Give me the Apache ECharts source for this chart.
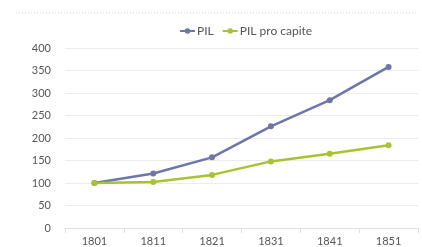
<!DOCTYPE html>
<html>
<head>
<meta charset="utf-8">
<script src="https://cdn.jsdelivr.net/npm/echarts@6/dist/echarts.min.js"></script>
<style>
  html, body { margin: 0; padding: 0; background: #fff; }
  #chart { width: 422px; height: 247px; }
</style>
</head>
<body>
<div id="chart"></div>
<script>
const years = ['1801', '1811', '1821', '1831', '1841', '1851'];
const pil = [100, 121, 157, 226, 284, 358];
const pilProCapite = [100, 102, 118, 148, 165, 184];
const yTicks = [0, 50, 100, 150, 200, 250, 300, 350, 400];

const chart = echarts.init(document.getElementById('chart'));

const option = {
  animation: false,
  textStyle: { fontFamily: 'Lato' },
  graphic: [
    {
      type: 'line',
      shape: { x1: 16, y1: 13, x2: 416, y2: 13 },
      style: { stroke: '#d0d0d0', lineWidth: 1, lineDash: [1, 2] }
    }
  ],
  legend: {
    top: 20,
    left: 174,
    itemWidth: 15,
    itemHeight: 7,
    itemGap: 8,
    textStyle: { color: '#555', fontSize: 12, padding: [0, 0, 0, -3] },
    data: ['PIL', 'PIL pro capite']
  },
  grid: {
    left: 65,
    right: 4,
    top: 48,
    bottom: 19
  },
  xAxis: {
    type: 'category',
    data: years,
    boundaryGap: true,
    axisLine: { lineStyle: { color: '#e0e0e0' } },
    axisTick: { show: true, lineStyle: { color: '#e0e0e0' } },
    axisLabel: { color: '#555', fontSize: 11, margin: 8 }
  },
  yAxis: {
    type: 'value',
    min: yTicks[0],
    max: yTicks[yTicks.length - 1],
    interval: 50,
    axisLine: { show: false },
    axisTick: { show: false },
    axisLabel: { color: '#555', fontSize: 11, margin: 14 },
    splitLine: { lineStyle: { color: '#ececec' } }
  },
  series: [
    {
      name: 'PIL',
      type: 'line',
      data: pil,
      symbol: 'circle',
      symbolSize: 6,
      lineStyle: { color: '#6e76a8', width: 2.5 },
      itemStyle: { color: '#6e76a8' }
    },
    {
      name: 'PIL pro capite',
      type: 'line',
      data: pilProCapite,
      symbol: 'circle',
      symbolSize: 6,
      lineStyle: { color: '#a9c232', width: 2.5 },
      itemStyle: { color: '#a9c232' }
    }
  ]
};

chart.setOption(option);
</script>
</body>
</html>
